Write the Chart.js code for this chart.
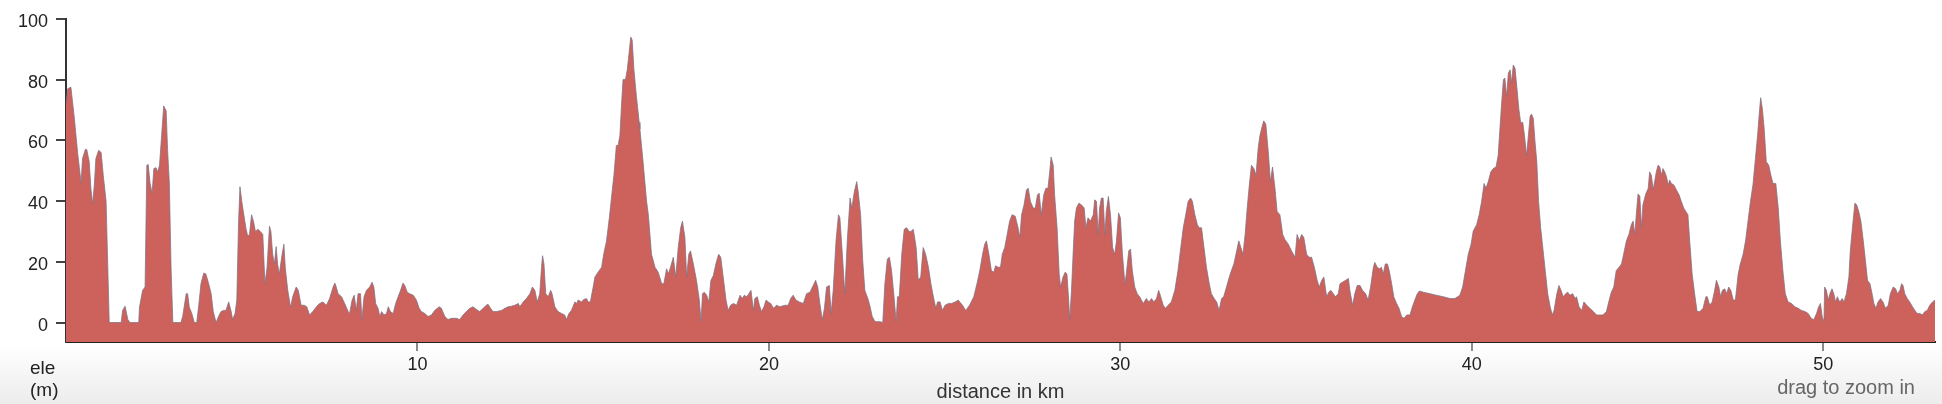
<!DOCTYPE html>
<html>
<head>
<meta charset="utf-8">
<script src="https://cdn.jsdelivr.net/npm/chart.js@4/dist/chart.umd.min.js"></script>
<style>
  html, body { margin: 0; padding: 0; }
  body {
    width: 1942px; height: 404px; overflow: hidden; position: relative;
    background: linear-gradient(to bottom, #ffffff 0px, #ffffff 345px, #ececec 404px);
    font-family: 'Liberation Sans', Arial, sans-serif;
  }
  #c { position: absolute; left: 0; top: 0; }
  .lbl { position: absolute; white-space: nowrap; }
</style>
</head>
<body>
<canvas id="c" width="1942" height="404"></canvas>
<div class="lbl" id="yTitle1" style="left:30px; top:358px; font-size:19px; line-height:19px; color:#222;">ele</div>
<div class="lbl" id="yTitle2" style="left:30px; top:380px; font-size:19px; line-height:19px; color:#222;">(m)</div>
<div class="lbl" id="hint" style="right:27px; top:377px; font-size:20px; line-height:20px; color:#666;">drag to zoom in</div>
<script>
// ---- data (distance in km, elevation in m) ----
const distA = [0.00,0.05,0.14,0.24,0.33,0.38,0.43,0.47,0.55,0.59,
  0.66,0.71,0.76,0.81,0.85,0.93,1.00,1.06,1.14,1.19,
  1.23,1.57,1.61,1.68,1.76,1.82,2.07,2.09,2.18,2.25,
  2.30,2.34,2.39,2.45,2.50,2.56,2.61,2.66,2.72,2.78,
  2.85,2.89,2.94,2.99,3.04,3.27,3.32,3.42,3.46,3.51,
  3.58,3.65,3.72,3.78,3.84,3.92,3.98,4.06,4.13,4.19,
  4.27,4.34,4.41,4.48,4.55,4.63,4.70,4.74,4.81,4.86,
  4.91,4.95,5.00,5.06,5.12,5.17,5.22,5.28,5.34,5.39,
  5.46,5.53,5.60,5.66,5.72,5.79,5.83,5.88,5.93,5.98,
  6.02,6.07,6.15,6.20,6.24,6.31,6.39,6.45,6.55,6.61,
  6.69,6.78,6.85,6.93,7.02,7.16];
const eleA = [72,77,77.5,67,56,51,46,54,57,57,
  53,44,39,46,54,56.7,56,48.5,40,18,
  0,0,4,5.4,1,0,0,5,10.6,11.7,
  51.8,52,46,42.6,50.7,51,49.6,51.8,61.5,71.3,
  69.7,57,46,18,0,0,2,9.5,9.5,5,
  3,0,0,6,12.8,16.3,16,12.8,9.5,3.6,
  0,2,3.6,4,4,6.8,3.6,1,3,7.4,
  33,44.7,40,35.5,31,28.5,29,35.5,33,30,
  30.7,30,29,12.8,18,31.7,30,22.5,19.3,25,
  19.3,16,22.5,25.8,18,10.6,5,8.5,11.7,10.6,
  5.7,5.7,5.2,2.5,3.6,5.7];

const distB = [7.22,7.31,7.41,7.50,7.60,7.65,7.69,7.74,7.84,7.93,
  8.03,8.07,8.14,8.20,8.26,8.31,8.38,8.42,8.48,8.55,
  8.64,8.71,8.76,8.81,8.88,8.93,8.98,9.05,9.12,9.17,
  9.23,9.31,9.38,9.45,9.52,9.59,9.64,9.71,9.78,9.88,
  9.97,10.05,10.11,10.21,10.30,10.40,10.49,10.62,10.68,10.78,
  10.87,10.97,11.11,11.20,11.30,11.39,11.49,11.58,11.68,11.77,
  11.87,11.96,12.01,12.08,12.15,12.25,12.39,12.49,12.58,12.68,
  12.77,12.87,12.91,13.01,13.10,13.20,13.27,13.34,13.41,13.48,
  13.53,13.56,13.60,13.65,13.72,13.79,13.83,13.91,14.00,14.10,
  14.19,14.24,14.31,14.38,14.48,14.53,14.57,14.67,14.73,14.81,
  14.86,14.92,15.00,15.05,15.14,15.24,15.30,15.38,15.46,15.52,
  15.59,15.66,15.71,15.76,15.81,15.85,15.92,15.97,16.02,16.07,
  16.11,16.16,16.23,16.31];
const eleB = [6.3,6.8,5.7,7.9,11.7,13,11.7,9.5,8.5,6.3,
  3.6,3,7.4,9,4,9.5,9.5,1,8.5,10.6,
  11.7,13.3,11.7,6.3,4.7,2,3.6,2.5,3,5.2,
  3.6,3,6.3,8.5,10.6,13,12.2,10,9.5,9,
  7.4,4.7,3.6,3,2,2.5,4,5.2,4.7,2,
  1,1.4,1.4,1,2.5,3.6,4.7,5.2,4.3,3.6,
  4.7,5.7,6,4.7,3.6,3.6,4,4.7,5.2,5.4,
  5.7,6.3,5.2,6.8,7.9,9.5,11.7,10.6,6.8,9.5,
  18.2,22,19.3,9.5,8.5,10.6,9.5,5.2,3.6,3,
  2.5,1,3,4,6.8,6.3,7.4,6.8,7.6,7.9,
  6.8,6.8,11.7,15,16.6,18.2,22.5,26.9,34.5,41,
  48.5,58.3,58.3,61.5,72.4,80,80,83.2,88.6,94,
  93,83.2,74.5,65.9];

const distC = [16.33,16.42,16.52,16.57,16.66,16.76,16.85,16.95,17.01,17.09,
  17.14,17.20,17.28,17.35,17.42,17.49,17.54,17.61,17.66,17.72,
  17.77,17.85,17.94,18.02,18.07,18.11,18.16,18.23,18.29,18.35,
  18.42,18.49,18.57,18.63,18.70,18.78,18.84,18.91,18.99,19.08,
  19.18,19.24,19.30,19.37,19.43,19.49,19.56,19.60,19.67,19.73,
  19.79,19.86,19.92,19.98,20.05,20.13,20.22,20.31,20.46,20.55,
  20.62,20.69,20.77,20.86,20.98,21.07,21.17,21.24,21.33,21.39,
  21.45,21.52,21.58,21.64,21.72,21.77,21.83,21.91,21.98,22.02,
  22.09,22.16,22.23,22.31,22.36,22.43,22.50,22.54,22.61,22.67,
  22.73,22.83,22.88,22.94,23.02,23.16,23.24,23.30,23.37,23.43,
  23.49,23.56,23.62,23.66,23.71,23.78,23.85,23.92,23.99,24.04,
  24.11,24.19,24.25,24.32,24.39,24.46,24.54,24.61,24.68,24.75,
  24.80,24.87,24.94,25.01,25.11,25.20,25.30,25.39];
const eleC = [63.7,52.9,39.9,35.5,22.5,18.2,16.6,12.8,12.8,17.7,
  16,18.2,21.5,15,24.7,31.2,33.4,28,15,22.5,
  23.6,19.3,13.9,7.4,0.3,9.5,10,9,6.8,13.9,
  15.5,19.3,22.5,21.5,15,7.4,4,5.7,6.3,5.7,
  9,7.9,9,8.5,9.5,10.6,4,7.9,8.5,5.7,
  3.6,5.2,7.4,6.8,6.3,4.7,5.7,5.2,5.7,5.7,
  7.9,9,7.4,6.8,6.3,9.5,10,11.7,13.9,11.7,
  6.3,0.9,4.7,11.7,12.2,3,10.6,26.9,35.5,34.5,
  22.5,9.5,26.9,41,37.7,43.1,46.4,43.1,35.5,20.4,
  10.6,7.4,5.2,2,0.3,0.3,0,12.8,20.9,21.5,
  17.1,8.5,0.3,8.5,8.5,22.5,30.7,31.2,30,30,
  30.7,24.7,13.9,15,24.7,22.5,18.2,12.8,8.5,4.7,
  6.8,6.8,4,5.7,6.3,6.3,6.8,7.4];

const distD = [25.43,25.51,25.60,25.71,25.83,25.92,26.00,26.08,26.14,26.19,
  26.26,26.33,26.40,26.45,26.52,26.59,26.64,26.71,26.78,26.85,
  26.92,27.01,27.09,27.14,27.19,27.26,27.33,27.38,27.44,27.52,
  27.58,27.64,27.69,27.75,27.82,27.88,27.94,27.99,28.03,28.09,
  28.13,28.20,28.26,28.30,28.37,28.43,28.48,28.53,28.56,28.61,
  28.66,28.70,28.75,28.82,28.89,28.97,29.02,29.08,29.15,29.23,
  29.27,29.32,29.37,29.41,29.46,29.51,29.56,29.60,29.66,29.72,
  29.78,29.84,29.89,29.95,30.00,30.06,30.13,30.17,30.24,30.29,
  30.34,30.41,30.48,30.55,30.65,30.74,30.81,30.89,30.95,31.03,
  31.09,31.15,31.22,31.28,31.36,31.45,31.55,31.64,31.72,31.79,
  31.86,31.93,32.00,32.05,32.12,32.19,32.24,32.31,32.38,32.45,
  32.53,32.59,32.67,32.74,32.81,32.88,32.94,33.02,33.10,33.16,
  33.23,33.31,33.37,33.43,33.49,33.55,33.61,33.67,33.73,33.80,
  33.86,33.92,33.97,34.04,34.08,34.14,34.21,34.27,34.33,34.40,
  34.46];
const eleD = [6.8,5.7,4,5.7,8.5,12.8,17.1,22.5,25.8,26.9,
  22.5,17.1,16.6,18.7,18.2,18.2,22.5,24.7,29,33.4,
  35.5,35,31.2,28,35.5,38.8,43.7,44.2,39.9,37.7,
  37.7,42,42.6,35.5,42,44.2,44.2,49.6,54.5,51.8,
  42,31.2,16,11.7,15,16.6,16,7.4,0.9,10.6,
  23.6,33.4,37.7,39.3,38.8,37.7,31.2,34.5,33.4,35.5,
  40.4,39.9,29,37.7,41,41,29,36.6,41.5,35.5,
  24.7,22.5,26.9,36.1,34.5,22.5,12.8,16,23.6,24.2,
  17.1,11.7,9.5,8.5,6.3,7.9,6.8,7.9,6.8,7.9,
  10.6,8.5,5.7,4.7,5.7,6.8,10.6,17.1,24.7,31.2,
  35.5,39.9,41,39.9,35.5,32.3,31.2,31.2,24.7,18.2,
  12.8,9.5,7.9,6.8,4,7.9,8.5,11.7,15,17.1,
  19.3,23.6,26.9,24.7,22.5,29,37.7,45.3,51.8,50.7,
  48.5,57.2,61.5,64.8,66.4,65.3,56.1,46.4,51.2,44.2,
  36.6];

const distE = [34.54,34.62,34.68,34.78,34.87,34.97,35.03,35.09,35.16,35.22,
  35.30,35.37,35.44,35.52,35.60,35.66,35.73,35.79,35.87,35.93,
  35.99,36.06,36.12,36.20,36.25,36.32,36.41,36.49,36.53,36.61,
  36.67,36.74,36.82,36.89,36.98,37.05,37.12,37.20,37.24,37.31,
  37.37,37.43,37.48,37.54,37.60,37.65,37.72,37.78,37.86,37.93,
  38.00,38.07,38.15,38.24,38.31,38.38,38.45,38.51,38.62,38.81,
  38.99,39.19,39.38,39.52,39.66,39.74,39.82,39.90,39.98,40.04,
  40.14,40.21,40.28,40.35,40.40,40.47,40.54,40.61,40.69,40.75,
  40.80,40.85,40.90,40.94,40.99,41.04,41.09,41.13,41.18,41.23,
  41.28,41.34,41.39,41.45,41.50,41.56,41.61,41.66,41.70,41.75,
  41.80,41.85,41.90,41.96,42.04,42.10,42.16,42.23,42.29,42.34,
  42.42,42.48,42.54,42.60,42.67,42.73,42.79,42.87,42.94,42.98,
  43.05,43.13,43.19,43.27,43.36,43.46,43.55];
const eleE = [35.5,29,27.4,25.8,23.6,21.5,29,26.9,29,28,
  22.5,21.5,21.5,18.2,13.9,11.7,13.9,15,8.5,10,
  10.6,9.5,8.5,9.5,12.8,13.3,13.9,14.5,10.6,5.7,
  9.5,12.2,12.2,10.6,9.5,7.4,11.7,18.2,19.8,18.2,
  17.7,18.2,16,19.3,19.3,17.1,12.8,8.5,6.3,4.7,
  2,1.4,2.5,2.5,5.2,7.4,9.5,10.4,10,9.5,
  9,8.5,7.9,7.9,9,11.7,17.1,22.5,25.8,30.1,
  32.3,35.5,39.9,45.8,44.2,46.4,49.6,50.7,51.2,55,
  63.7,72.4,80,80.5,74.5,82.1,83.2,78.9,84.8,83.7,
  77.8,70.2,65.9,65.9,61.5,55,61.5,68,68.6,67.2,
  59.4,52.9,39.9,31.2,22.5,16,9.5,5.2,2.5,4,
  9.5,12.2,10.6,8.5,9.5,10,9,9.5,7.9,8.5,
  5.2,4,6.8,5.7,4.7,3.6,2.5];

const distF = [43.64,43.73,43.83,43.91,43.97,44.04,44.11,44.19,44.26,44.32,
  44.40,44.47,44.54,44.59,44.64,44.68,44.73,44.78,44.83,44.87,
  44.95,45.02,45.06,45.11,45.16,45.21,45.25,45.30,45.35,45.40,
  45.44,45.49,45.54,45.59,45.63,45.68,45.75,45.82,45.90,45.96,
  46.03,46.09,46.15,46.20,46.27,46.34,46.41,46.49,46.58,46.66,
  46.70,46.77,46.84,46.91,46.96,47.03,47.08,47.13,47.20,47.25,
  47.31,47.37,47.44,47.50,47.58,47.64,47.72,47.79,47.86,47.93,
  48.00,48.07,48.13,48.19,48.22,48.27,48.32,48.38,48.45,48.51,
  48.57,48.65,48.72,48.78,48.86,48.92,49.00,49.10,49.19,49.29,
  49.38,49.48,49.57,49.66,49.73,49.81,49.87,49.92,49.97,50.02,
  50.04,50.09,50.14,50.19,50.25,50.30,50.35,50.40,50.47,50.54,
  50.59,50.66,50.73,50.77,50.83,50.90,50.95,51.01,51.07,51.14,
  51.20,51.26,51.33,51.39,51.44,51.50,51.56,51.63,51.70,51.77,
  51.85,51.91,51.99,52.06,52.11,52.18,52.23,52.27,52.32,52.39,
  52.46,52.54,52.61,52.67,52.75,52.82,52.89,52.96,53.03,53.11,
  53.18];
const eleF = [2.5,2.5,3.6,7.4,10,11.7,17.1,18.2,19.3,22.5,
  26.9,29,32.3,33.4,29,35.5,42.3,41.7,31.2,38.8,
  42.3,44.2,49.6,48.5,43.7,46.9,49.6,51.8,51.2,48.5,
  50.7,49.6,48,45.3,46.9,45.8,45.3,43.7,42,39.9,
  37.7,36.6,35.5,26.9,16,9.5,3.6,3.6,4.7,8.5,
  8.5,5.7,6.8,10.6,13.9,11.7,8.5,10.6,11.1,9.5,
  11.7,10.6,7.4,7.4,16,19.3,22.5,26.9,33.4,39.9,
  45.3,54,61.5,70.2,74,70.2,63.7,52.9,51.8,48.5,
  45.8,45.8,37.7,26.9,16,9.5,6.8,6.3,5.2,4.7,
  4,3.6,3,1.4,0.9,3,5.2,6.3,2,0.3,
  11.7,10.6,7.4,9.5,11.1,9.5,6.8,8.5,6.8,7.9,
  6.8,9.5,15,23.6,31.2,39.3,38.8,36.6,33.4,26.9,
  20.4,13.9,12.8,9.5,6.3,4.7,6.8,7.9,6.8,4.7,
  5.7,9.5,11.7,11.1,9.5,10.6,12.8,12.2,9.5,7.9,
  6.8,5.2,4,3,3,2.5,3.6,4,5.7,6.8,
  7.4];

const xTicks = [10, 20, 30, 40, 50];
const yTicks = [0, 20, 40, 60, 80, 100];
const xMax = 53.18;
const yMin = -6.4, yMax = 100;

// ---- build chart ----
const distanceKm = [].concat(distA, distB, distC, distD, distE, distF);
const elevationM = [].concat(eleA, eleB, eleC, eleD, eleE, eleF);
const points = distanceKm.map((d, i) => ({ x: d, y: elevationM[i] }));

Chart.defaults.font.family = "'Liberation Sans', Arial, sans-serif";

new Chart(document.getElementById('c'), {
  type: 'line',
  data: {
    datasets: [{
      data: points,
      fill: 'start',
      backgroundColor: '#cc625b',
      borderColor: 'rgba(128,112,132,0.75)',
      borderWidth: 1,
      pointRadius: 0,
      tension: 0
    }]
  },
  options: {
    responsive: false,
    animation: false,
    devicePixelRatio: 1,
    layout: { padding: { top: 15, right: 7, left: 0, bottom: 0 } },
    plugins: { legend: { display: false }, tooltip: { enabled: false } },
    scales: {
      x: {
        type: 'linear',
        min: 0,
        max: xMax,
        afterBuildTicks: s => { s.ticks = xTicks.map(v => ({ value: v })); },
        afterFit: s => { s.height = 62; },
        ticks: { font: { size: 18 }, color: '#222', padding: 3, maxRotation: 0 },
        grid: { drawOnChartArea: false, drawTicks: true, tickLength: 9, color: '#8a8a8a', lineWidth: 2 },
        border: { display: true, color: '#222', width: 2 },
        title: { display: true, text: 'distance in km', color: '#333', font: { size: 20 }, padding: { top: 0, bottom: 0 } }
      },
      y: {
        type: 'linear',
        min: yMin,
        max: yMax,
        afterBuildTicks: s => { s.ticks = yTicks.map(v => ({ value: v })); },
        afterFit: s => { s.width = 66; },
        ticks: { font: { size: 18 }, color: '#222', padding: 8, labelOffset: 3 },
        grid: { drawOnChartArea: false, drawTicks: true, tickLength: 10, color: '#444', lineWidth: 2 },
        border: { display: true, color: '#333', width: 2 }
      }
    }
  }
});
</script>
</body>
</html>
